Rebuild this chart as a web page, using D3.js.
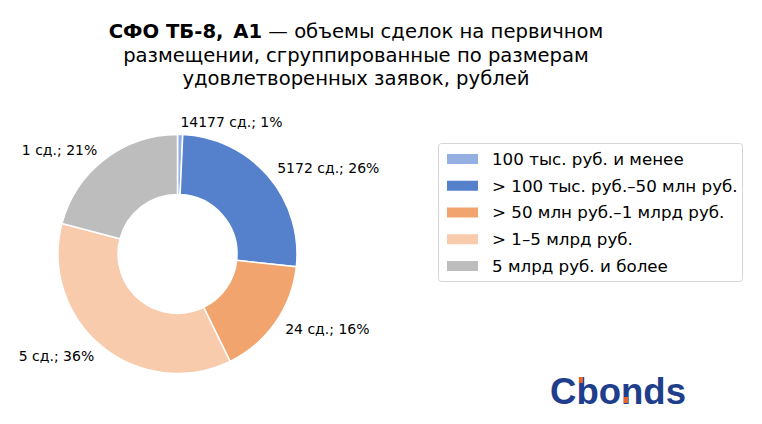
<!DOCTYPE html>
<html><head><meta charset="utf-8">
<script src="https://cdn.jsdelivr.net/npm/d3@7/dist/d3.min.js"></script>
<style>body{margin:0;background:#fff;}svg{display:block;font-family:"DejaVu Sans",sans-serif;}</style>
</head><body><svg id="c" width="762" height="424"></svg>
<script>
const categories = ["100 тыс. руб. и менее","> 100 тыс. руб.–50 млн руб.","> 50 млн руб.–1 млрд руб.","> 1–5 млрд руб.","5 млрд руб. и более"];
const shares = [0.7, 26.0, 16.05, 36.35, 20.9];
const dealCounts = [14177, 5172, 24, 5, 1];
const pctLabels = ["1%","26%","16%","36%","21%"];
const colors = ["#95afe1","#5480cc","#f2a46e","#f7cbac","#bdbdbd"];

const svg = d3.select("#c");
// Title
const title = svg.append("text").attr("text-anchor","middle").attr("font-size",19.6).attr("fill","#000");
const t1 = title.append("tspan").attr("x",356).attr("y",38);
t1.append("tspan").attr("font-weight","bold").text("СФО ТБ-8,\u2002А1");
t1.append("tspan").text(" — объемы сделок на первичном");
title.append("tspan").attr("x",356).attr("y",62).text("размещении, сгруппированные по размерам");
title.append("tspan").attr("x",356).attr("y",85).text("удовлетворенных заявок, рублей");

// Donut
const cx = 177.5, cy = 254, R = 119.5, r0 = 59.5;
const data = categories.map((c,i)=>({cat:c, v:shares[i], n:dealCounts[i], p:pctLabels[i], col:colors[i]}));
const pie = d3.pie().value(d=>d.v).sort(null);
const arcs = pie(data);
const arc = d3.arc().innerRadius(r0).outerRadius(R);
const g = svg.append("g").attr("transform",`translate(${cx},${cy})`);
g.selectAll("path").data(arcs).join("path")
  .attr("d",arc).attr("fill",d=>d.data.col).attr("stroke","#fff").attr("stroke-width",1.5);
g.selectAll("text.lbl").data(arcs).join("text").attr("class","lbl")
  .each(function(d){
    const a=(d.startAngle+d.endAngle)/2, rr=R*1.1;
    const x=rr*Math.sin(a), y=-rr*Math.cos(a);
    d3.select(this).attr("x",x).attr("y",y).attr("dy","0.35em")
      .attr("text-anchor", x>=0?"start":"end");
  })
  .attr("font-size",14).attr("fill","#000")
  .text(d=>`${d.data.n} сд.; ${d.data.p}`);

// Legend
const lg = svg.append("g");
lg.append("rect").attr("x",438.5).attr("y",143.5).attr("width",304).attr("height",138)
  .attr("rx",3).attr("fill","#fff").attr("stroke","#d6d6d6");
const rowY = d3.scalePoint().domain(categories).range([159,266]);
categories.forEach((c,i)=>{
  lg.append("rect").attr("x",447).attr("y",rowY(c)-5).attr("width",31).attr("height",10).attr("fill",colors[i]);
  lg.append("text").attr("x",492).attr("y",rowY(c)).attr("dy","0.35em").attr("font-size",16.7).attr("fill","#000").text(c);
});

// Logo
const logo = svg.append("g");
logo.append("text").attr("x",550).attr("y",404).attr("font-size",37).attr("font-weight","bold")
  .attr("font-family","'Liberation Sans',Arial,sans-serif").attr("fill","#1f3e8c")
  .attr("textLength",136).attr("lengthAdjust","spacingAndGlyphs").text("Cbonds");
logo.append("rect").attr("x",579).attr("y",377).attr("width",4).attr("height",6).attr("fill","#e8632b");
logo.append("rect").attr("x",624).attr("y",397).attr("width",4).attr("height",6).attr("fill","#e8632b");
</script></body></html>
